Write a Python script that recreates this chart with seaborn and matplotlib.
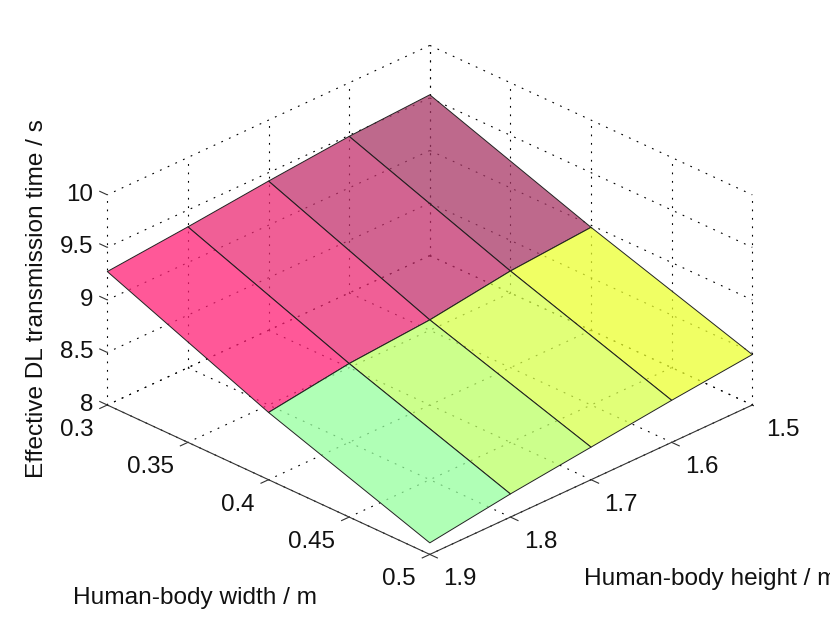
import numpy as np
import matplotlib
matplotlib.use("Agg")
import matplotlib.pyplot as plt
import seaborn as sns
from mpl_toolkits.mplot3d import proj3d

# ---- data ----
heights = [1.5, 1.6, 1.7, 1.8, 1.9]
widths = [0.3, 0.4, 0.5]
time_w30 = [9.53, 9.49, 9.42, 9.34, 9.27]
time_w40 = [8.98, 8.92, 8.81, 8.75, 8.64]
time_w50 = [8.48, 8.40, 8.31, 8.22, 8.11]

height_ticks = [1.5, 1.6, 1.7, 1.8, 1.9]
width_ticks = [0.3, 0.35, 0.4, 0.45, 0.5]
width_labels = ["0.3", "0.35", "0.4", "0.45", "0.5"]
time_ticks = [8, 8.5, 9, 9.5, 10]
time_labels = ["8", "8.5", "9", "9.5", "10"]

# colours as they appear on white, one per surface cell
row_w30 = ["#be698c", "#d26491", "#f05f96", "#ff5898"]
row_w40 = ["#f0ff64", "#e1ff78", "#cdff8c", "#b0ffb6"]
ALPHA = 0.75

sns.set_theme(style="white")
plt.rcParams["font.family"] = ["Liberation Sans", "DejaVu Sans"]
FS = 17.4
FS_LABEL = 17.6
W, H = 830, 625

fig = plt.figure(figsize=(W / 100, H / 100), dpi=100)
ax = fig.add_subplot(111, projection="3d", computed_zorder=False, proj_type="ortho")
ax.view_init(elev=27.6, azim=45)
ax.set_xlim(1.5, 1.9, view_margin=0)
ax.set_ylim(0.3, 0.5, view_margin=0)
ax.set_zlim(8, 10, view_margin=0)
ax.set_box_aspect((1, 1, 0.52))
ax.set_xticks(height_ticks)
ax.set_yticks(width_ticks)
ax.set_zticks(time_ticks)
ax.set_axis_off()
ax.patch.set_alpha(0)

# place the axes so that the floor's corners land where they do in the reference
M = ax.get_proj()
xl, yl, _ = proj3d.proj_transform(1.9, 0.3, 8, M)   # left corner
xr, yr, _ = proj3d.proj_transform(1.5, 0.5, 8, M)   # right corner
x0, x1 = ax.viewLim.intervalx
y0, y1 = ax.viewLim.intervaly
side = 645 * (x1 - x0) / (xr - xl)
left = 107.3 - side * (xl - x0) / (x1 - x0)
bottom = (H - 405) - side * (yl - y0) / (y1 - y0)
ax.set_position([left / W, bottom / H, side / W, side / H])

DOT = dict(color="black", lw=0.8, linestyle=(0, (1.6, 6.0)), zorder=1)
SOLID = dict(color="#333333", lw=0.8, zorder=2, solid_capstyle="butt")
hmin, hmax = min(height_ticks), max(height_ticks)
wmin, wmax = min(width_ticks), max(width_ticks)
zmin, zmax = min(time_ticks), max(time_ticks)

# floor grid
for h in height_ticks:
    ax.plot([h, h], [wmin, wmax], [zmin, zmin], **DOT)
for w in width_ticks:
    ax.plot([hmin, hmax], [w, w], [zmin, zmin], **DOT)
# back walls: vertical grid lines
for h in height_ticks:
    ax.plot([h, h], [wmin, wmin], [zmin, zmax], **DOT)
for w in width_ticks:
    ax.plot([hmin, hmin], [w, w], [zmin, zmax], **DOT)
# back walls: horizontal grid lines
for z in time_ticks:
    ax.plot([hmin, hmax], [wmin, wmin], [z, z], **DOT)
    ax.plot([hmin, hmin], [wmin, wmax], [z, z], **DOT)

# surface
X, Y = np.meshgrid(heights, widths)
Z = np.array([time_w30, time_w40, time_w50])
seen = np.array([sns.color_palette(row_w30), sns.color_palette(row_w40)])
true = np.clip((seen - (1 - ALPHA)) / ALPHA, 0, 1)
fc = np.zeros(Z.shape + (4,))
fc[:-1, :-1, :3] = true
fc[..., 3] = ALPHA
ax.plot_surface(X, Y, Z, facecolors=fc, rstride=1, cstride=1, shade=False,
                edgecolor="#222222", linewidth=0.7, antialiased=True, zorder=3)

# solid front axes
ax.plot([hmax, hmax], [wmin, wmax], [zmin, zmin], **SOLID)
ax.plot([hmin, hmax], [wmax, wmax], [zmin, zmin], **SOLID)


def tick_label(x, y, z, text, dx, dy, ha):
    px, py, _ = proj3d.proj_transform(x, y, z, ax.get_proj())
    ax.annotate(text, xy=(px, py), xycoords="data", xytext=(dx, dy),
                textcoords="offset pixels", ha=ha, va="center",
                fontsize=FS, color="#111111", annotation_clip=False)


for z, s in zip(time_ticks, time_labels):
    ax.plot([hmax, hmax], [wmin, wmin - 0.005], [z, z], **SOLID)
    tick_label(hmax, wmin, z, s, -14, 0, "right")
for w, s in zip(width_ticks, width_labels):
    ax.plot([hmax, hmax + 0.01], [w, w], [zmin, zmin], **SOLID)
    tick_label(hmax, w, zmin, s, -14, -25, "right")
for h in height_ticks:
    ax.plot([h, h], [wmax, wmax + 0.005], [zmin, zmin], **SOLID)
    tick_label(h, wmax, zmin, f"{h:.1f}", 13.5, -25, "left")

# axis titles
fig.text(194.5 / W, 1 - 598 / H, "Human-body width / m", ha="center", va="center",
         fontsize=FS_LABEL, color="#111111")
fig.text(584 / W, 1 - 579 / H, "Human-body height / m", ha="left", va="center",
         fontsize=FS_LABEL, color="#111111")
fig.text(37 / W, 1 - 299 / H, "Effective DL transmission time / s", rotation=90,
         ha="center", va="center", fontsize=FS_LABEL, color="#111111")

fig.savefig("out.png", dpi=100)
